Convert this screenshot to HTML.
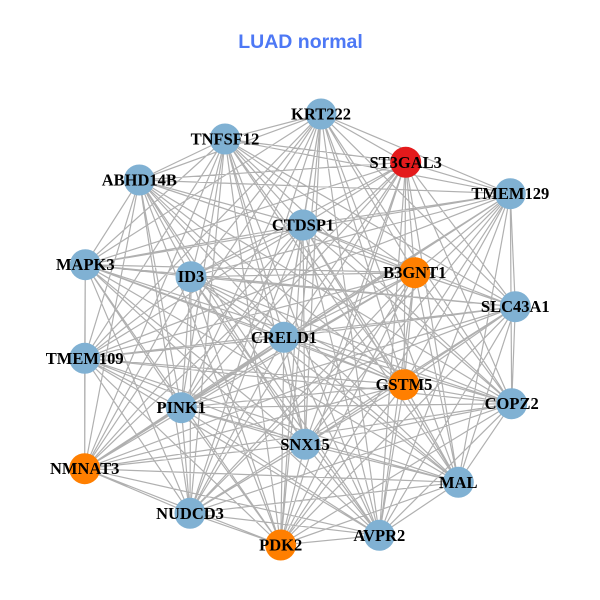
<!DOCTYPE html>
<html><head><meta charset="utf-8"><style>html,body{margin:0;padding:0;background:#fff}svg{display:block}
.l{font:bold 16.5px "Liberation Serif",serif;text-anchor:middle;fill:#000}</style></head><body>
<svg id="s" xmlns="http://www.w3.org/2000/svg" width="600" height="600" viewBox="0 0 600 600">
<g id="e" stroke="#b0b0b0" stroke-width="1.2" fill="none"></g>
<g>
<circle cx="321" cy="114" r="15.5" fill="#80b1d3"/><circle cx="225" cy="139" r="15.5" fill="#80b1d3"/><circle cx="405.7" cy="162.3" r="15.5" fill="#e41a1c"/><circle cx="510.3" cy="193.7" r="15.5" fill="#80b1d3"/><circle cx="139.3" cy="180" r="15.5" fill="#80b1d3"/><circle cx="303" cy="225" r="15.5" fill="#80b1d3"/><circle cx="85.3" cy="264.7" r="15.5" fill="#80b1d3"/><circle cx="191" cy="276.7" r="15.5" fill="#80b1d3"/><circle cx="414.7" cy="272.7" r="15.5" fill="#ff7f00"/><circle cx="515.3" cy="306.7" r="15.5" fill="#80b1d3"/><circle cx="284" cy="337.3" r="15.5" fill="#80b1d3"/><circle cx="84.7" cy="358.3" r="15.5" fill="#80b1d3"/><circle cx="404" cy="384.7" r="15.5" fill="#ff7f00"/><circle cx="511.7" cy="403.7" r="15.5" fill="#80b1d3"/><circle cx="181.3" cy="407.7" r="15.5" fill="#80b1d3"/><circle cx="305" cy="444.3" r="15.5" fill="#80b1d3"/><circle cx="84.7" cy="468.7" r="15.5" fill="#ff7f00"/><circle cx="458.3" cy="482.3" r="15.5" fill="#80b1d3"/><circle cx="190" cy="513.3" r="15.5" fill="#80b1d3"/><circle cx="379.3" cy="535.3" r="15.5" fill="#80b1d3"/><circle cx="280.7" cy="545" r="15.5" fill="#ff7f00"/>
</g>
<g class="t">
<text class="l" x="321" y="119.5">KRT222</text><text class="l" x="225" y="144.5">TNFSF12</text><text class="l" x="405.7" y="167.8">ST3GAL3</text><text class="l" x="510.3" y="199.2">TMEM129</text><text class="l" x="139.3" y="185.5">ABHD14B</text><text class="l" x="303" y="230.5">CTDSP1</text><text class="l" x="85.3" y="270.2">MAPK3</text><text class="l" x="191" y="282.2">ID3</text><text class="l" x="414.7" y="278.2">B3GNT1</text><text class="l" x="515.3" y="312.2">SLC43A1</text><text class="l" x="284" y="342.8">CRELD1</text><text class="l" x="84.7" y="363.8">TMEM109</text><text class="l" x="404" y="390.2">GSTM5</text><text class="l" x="511.7" y="409.2">COPZ2</text><text class="l" x="181.3" y="413.2">PINK1</text><text class="l" x="305" y="449.8">SNX15</text><text class="l" x="84.7" y="474.2">NMNAT3</text><text class="l" x="458.3" y="487.8">MAL</text><text class="l" x="190" y="518.8">NUDCD3</text><text class="l" x="379.3" y="540.8">AVPR2</text><text class="l" x="280.7" y="550.5">PDK2</text>
</g>
<text x="300.5" y="48" text-anchor="middle" style="font:bold 19.5px 'Liberation Sans',sans-serif" fill="#4d78f5">LUAD normal</text>
</svg>
<script>
var p=[[321,114],[225,139],[405.7,162.3],[510.3,193.7],[139.3,180],[303,225],[85.3,264.7],[191,276.7],[414.7,272.7],[515.3,306.7],[284,337.3],[84.7,358.3],[404,384.7],[511.7,403.7],[181.3,407.7],[305,444.3],[84.7,468.7],[458.3,482.3],[190,513.3],[379.3,535.3],[280.7,545]];
var d="";for(var i=0;i<p.length;i++)for(var j=i+1;j<p.length;j++)d+="M"+p[i]+"L"+p[j];
var g=document.getElementById("e");var q=document.createElementNS("http://www.w3.org/2000/svg","path");q.setAttribute("d",d);g.appendChild(q);
</script>
</body></html>
